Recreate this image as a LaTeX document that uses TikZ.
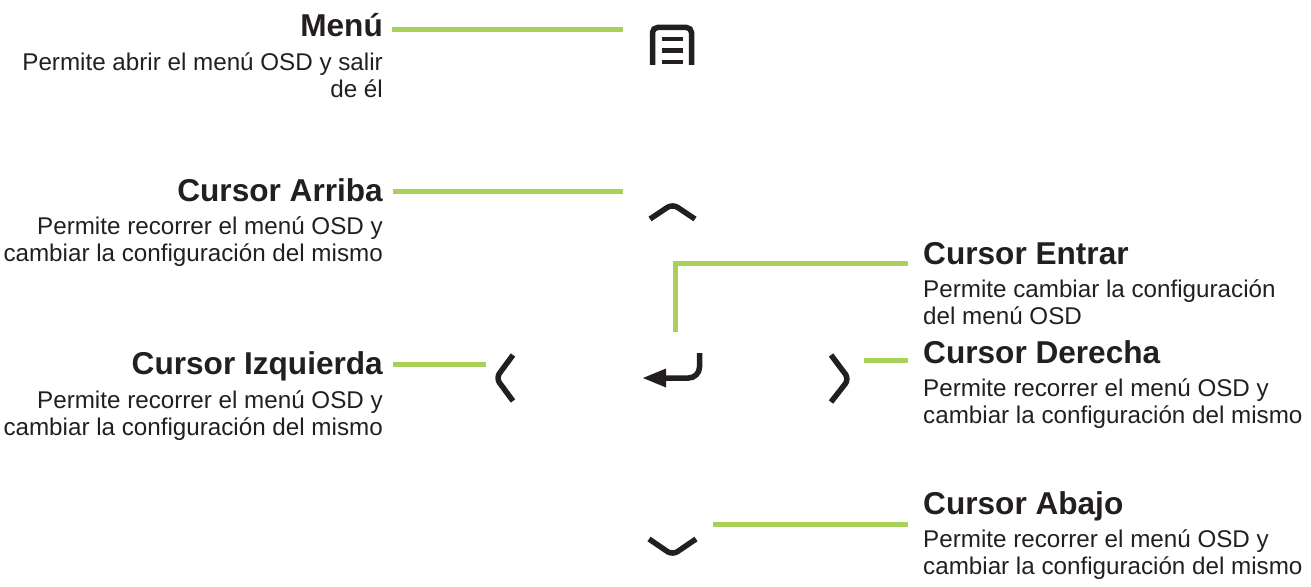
\documentclass[tikz,border=0pt]{standalone}
\usepackage{fontspec}
\setmainfont{Liberation Sans}
\definecolor{lgreen}{RGB}{169,209,90}
\definecolor{ink}{RGB}{35,31,32}
\begin{document}
\begin{tikzpicture}[x=1pt,y=-1pt,
  gline/.style={draw=lgreen,line width=5pt},
  icon/.style={draw=ink,line width=5.5pt,rounded corners=6pt},
  bar/.style={draw=ink,line width=4.5pt},
  ttl/.style={font=\fontsize{31.6}{36}\selectfont\bfseries,text=ink,inner sep=0pt},
  dsc/.style={font=\fontsize{24.2}{27}\selectfont,text=ink,inner sep=0pt},
  iconbox/.style={inner sep=0pt,minimum width=50pt,minimum height=45pt}]
\useasboundingbox (0,0) rectangle (1311,586);
% left titles and descriptions (description anchored at its last line's baseline)
\node[ttl,anchor=base east] (menuT) at (383,37) {Menú};
\node[dsc,anchor=base east,align=right] (menuD) at (383,97) {Permite abrir el menú OSD y salir\\de él};
\node[ttl,anchor=base east] (upT) at (383,201) {Cursor Arriba};
\node[dsc,anchor=base east,align=right] (upD) at (383,261) {Permite recorrer el menú OSD y\\cambiar la configuración del mismo};
\node[ttl,anchor=base east] (leftT) at (383,374) {Cursor Izquierda};
\node[dsc,anchor=base east,align=right] (leftD) at (383,435) {Permite recorrer el menú OSD y\\cambiar la configuración del mismo};
% right titles and descriptions
\node[ttl,anchor=base west] (entT) at (923,264) {Cursor Entrar};
\node[dsc,anchor=base west,align=left] (entD) at (923,324) {Permite cambiar la configuración\\del menú OSD};
\node[ttl,anchor=base west] (rightT) at (923,363) {Cursor Derecha};
\node[dsc,anchor=base west,align=left] (rightD) at (923,423) {Permite recorrer el menú OSD y\\cambiar la configuración del mismo};
\node[ttl,anchor=base west] (downT) at (923,514) {Cursor Abajo};
\node[dsc,anchor=base west,align=left] (downD) at (923,574) {Permite recorrer el menú OSD y\\cambiar la configuración del mismo};
% icon nodes
\node[iconbox] (menuI) at (672,45) {};
\node[iconbox] (upI) at (672.5,211) {};
\node[iconbox] (leftI) at (504,378) {};
\node[iconbox] (entI) at (672,366) {};
\node[iconbox] (rightI) at (840,378) {};
\node[iconbox] (downI) at (672.5,547) {};
% icons
\draw[icon,rounded corners=5pt] (652.5,65) -- (652.5,27.5) -- (691.5,27.5) -- (691.5,65);
\draw[bar] (662,39) -- (683,39);
\draw[bar] (662,50.5) -- (683,50.5);
\draw[bar] (662,62) -- (683,62);
\draw[icon] (650,219) -- (672.5,204) -- (695,219);
\draw[icon] (649,539) -- (672.5,555) -- (696,539);
\draw[icon] (513,355) -- (496,378) -- (513,401);
\draw[icon] (831,355) -- (849,379) -- (831,402);
\draw[icon,rounded corners=11pt] (699.5,353) -- (699.5,378) -- (662,378);
\fill[ink] (643,378) -- (666,368.5) -- (666,387.5) -- cycle;
% connector end points
\coordinate (m1) at (392,29.5);  \coordinate (m2) at (623,29.5);
\coordinate (u1) at (393,191.5); \coordinate (u2) at (623,191.5);
\coordinate (l1) at (393,364.5); \coordinate (l2) at (486,364.5);
\coordinate (e1) at (675,332);   \coordinate (e2) at (675,263.5); \coordinate (e3) at (908,263.5);
\coordinate (r1) at (864,360);   \coordinate (r2) at (908,360);
\coordinate (d1) at (713,524.5); \coordinate (d2) at (908,524.5);
% connectors
\draw[gline] (m1) -- (m2);
\draw[gline] (u1) -- (u2);
\draw[gline] (l1) -- (l2);
\draw[gline] (e1) -- (e2) -- (e3);
\draw[gline] (r1) -- (r2);
\draw[gline] (d1) -- (d2);
\end{tikzpicture}
\end{document}
